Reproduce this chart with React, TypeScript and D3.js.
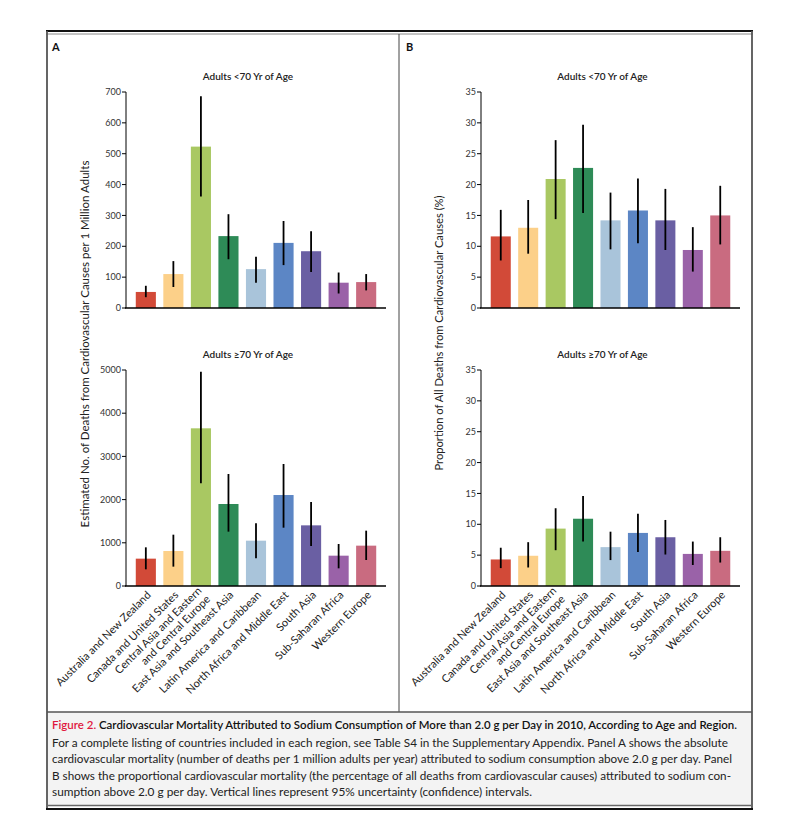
import React from "react";
import * as d3 from "d3";

const regions: string[][] = [
  ["Australia and New Zealand"],
  ["Canada and United States"],
  ["Central Asia and Eastern", "and Central Europe"],
  ["East Asia and Southeast Asia"],
  ["Latin America and Caribbean"],
  ["North Africa and Middle East"],
  ["South Asia"],
  ["Sub-Saharan Africa"],
  ["Western Europe"],
];
const colors = ["#d24a38", "#fcd089", "#a9c862", "#2e8b57", "#a9c4da", "#5c86c5", "#6a5fa3", "#9a62a8", "#c96b80"];

const aUnderVal = [52, 110, 523, 233, 126, 211, 184, 82, 84];
const aUnderLo = [35, 68, 361, 158, 82, 139, 117, 47, 57];
const aUnderHi = [72, 152, 686, 304, 166, 282, 249, 115, 110];

const aOverVal = [633, 810, 3650, 1898, 1049, 2106, 1404, 702, 934];
const aOverLo = [386, 448, 2377, 1258, 640, 1350, 926, 409, 602];
const aOverHi = [895, 1188, 4961, 2593, 1451, 2824, 1944, 972, 1281];

const bUnderVal = [11.6, 13.0, 20.9, 22.7, 14.2, 15.8, 14.2, 9.4, 15.0];
const bUnderLo = [7.7, 8.8, 14.4, 15.4, 9.5, 10.5, 9.4, 5.9, 10.3];
const bUnderHi = [15.9, 17.5, 27.2, 29.7, 18.7, 21.0, 19.3, 13.1, 19.8];

const bOverVal = [4.3, 4.9, 9.3, 10.9, 6.3, 8.6, 7.9, 5.2, 5.7];
const bOverLo = [2.9, 3.0, 5.8, 7.2, 4.2, 5.5, 5.1, 3.4, 3.8];
const bOverHi = [6.2, 7.1, 12.6, 14.6, 8.8, 11.7, 10.7, 7.2, 7.9];

const ticksA1 = [0, 100, 200, 300, 400, 500, 600, 700];
const ticksA2 = [0, 1000, 2000, 3000, 4000, 5000];
const ticksB = [0, 5, 10, 15, 20, 25, 30, 35];

const FONT = "Lato, 'Open Sans', sans-serif";

type PanelProps = {
  x0: number; x1: number; yTop: number; yBottom: number; max: number;
  ticks: number[]; vals: number[]; lo: number[]; hi: number[];
  title: string; showLabels: boolean;
};

function Panel({ x0, x1, yTop, yBottom, max, ticks, vals, lo, hi, title, showLabels }: PanelProps) {
  const x = d3.scaleBand<number>().domain(d3.range(vals.length)).range([x0, x1]).paddingInner(0.27).paddingOuter(0.355);
  const y = d3.scaleLinear().domain([0, max]).range([yBottom, yTop]);
  return (
    <g>
      <text x={(x0 + x1) / 2 - 8} y={yTop - 12} textAnchor="middle" fontFamily={FONT} fontSize={10} fontWeight={600} fill="#222">{title}</text>
      {vals.map((v, i) => (
        <rect key={"b" + i} x={x(i)} y={y(v)} width={x.bandwidth()} height={y(0) - y(v)} fill={colors[i]} />
      ))}
      {vals.map((v, i) => (
        <line key={"e" + i} x1={x(i)! + x.bandwidth() / 2} x2={x(i)! + x.bandwidth() / 2} y1={y(lo[i])} y2={y(hi[i])} stroke="#000" strokeWidth={1.8} />
      ))}
      <line x1={x0} x2={x0} y1={y(0)} y2={y(max)} stroke="#000" strokeWidth={1} />
      <line x1={x0 - 1} x2={x1} y1={y(0)} y2={y(0)} stroke="#000" strokeWidth={1.5} />
      {ticks.map((t) => (
        <g key={"t" + t}>
          <line x1={x0 - 4} x2={x0} y1={y(t)} y2={y(t)} stroke="#000" strokeWidth={1} />
          <text x={x0 - 5} y={y(t)} dy="0.35em" textAnchor="end" fontFamily={FONT} fontSize={9} fill="#333">{t}</text>
        </g>
      ))}
      {showLabels && regions.map((lines, i) => {
        const cx = x(i)! + x.bandwidth() / 2;
        return (
          <g key={"l" + i} transform={`translate(${cx + 3},${y(0) + 7}) rotate(-45)`}>
            {lines.map((ln, j) => (
              <text key={j} x={0} y={(j - (lines.length - 1) / 2) * 12} dy="0.35em" textAnchor="end" fontFamily={FONT} fontSize={11} fill="#222">{ln}</text>
            ))}
          </g>
        );
      })}
    </g>
  );
}

const captionTitleRed = "Figure 2.";
const captionTitle = "Cardiovascular Mortality Attributed to Sodium Consumption of More than 2.0 g per Day in 2010, According to Age and Region.";
const captionLines = [
  "For a complete listing of countries included in each region, see Table S4 in the Supplementary Appendix. Panel A shows the absolute",
  "cardiovascular mortality (number of deaths per 1 million adults per year) attributed to sodium consumption above 2.0 g per day. Panel",
  "B shows the proportional cardiovascular mortality (the percentage of all deaths from cardiovascular causes) attributed to sodium con-",
  "sumption above 2.0 g per day. Vertical lines represent 95% uncertainty (confidence) intervals.",
];
const captionWidths = [676, 680, 679, 480];

export default function App() {
  return (
    <svg width={800} height={826} style={{ position: "absolute", left: 0, top: 0, background: "#fff" }}>
      <rect x={0} y={0} width={800} height={826} fill="#fff" />
      <rect x={47} y={712} width={705} height={93} fill="#f3f3f3" />
      <line x1={46} x2={753} y1={31} y2={31} stroke="#111" strokeWidth={2.2} />
      <line x1={46} x2={753} y1={34} y2={34} stroke="#888" strokeWidth={1} />
      <line x1={47} x2={47} y1={31} y2={809} stroke="#555" strokeWidth={1.8} />
      <line x1={752} x2={752} y1={31} y2={809} stroke="#555" strokeWidth={1.8} />
      <line x1={399} x2={399} y1={34} y2={712} stroke="#444" strokeWidth={1} />
      <line x1={47} x2={752} y1={712} y2={712} stroke="#555" strokeWidth={1.5} />
      <line x1={46} x2={753} y1={805.5} y2={805.5} stroke="#666" strokeWidth={1.3} />
      <line x1={46} x2={753} y1={809} y2={809} stroke="#111" strokeWidth={2} />

      <text x={52} y={51} fontFamily={FONT} fontSize={11} fontWeight={700} fill="#111">A</text>
      <text x={406} y={51} fontFamily={FONT} fontSize={11} fontWeight={700} fill="#111">B</text>

      <Panel x0={126} x1={386} yTop={92} yBottom={308} max={700} ticks={ticksA1} vals={aUnderVal} lo={aUnderLo} hi={aUnderHi} title="Adults <70 Yr of Age" showLabels={false} />
      <Panel x0={126} x1={386} yTop={370} yBottom={586} max={5000} ticks={ticksA2} vals={aOverVal} lo={aOverLo} hi={aOverHi} title="Adults ≥70 Yr of Age" showLabels={true} />
      <Panel x0={481} x1={740} yTop={92} yBottom={308} max={35} ticks={ticksB} vals={bUnderVal} lo={bUnderLo} hi={bUnderHi} title="Adults <70 Yr of Age" showLabels={false} />
      <Panel x0={481} x1={740} yTop={370} yBottom={586} max={35} ticks={ticksB} vals={bOverVal} lo={bOverLo} hi={bOverHi} title="Adults ≥70 Yr of Age" showLabels={true} />

      <text transform="translate(89,344) rotate(-90)" textAnchor="middle" fontFamily={FONT} fontSize={11.5} fill="#222">Estimated No. of Deaths from Cardiovascular Causes per 1 Million Adults</text>
      <text transform="translate(443,333) rotate(-90)" textAnchor="middle" fontFamily={FONT} fontSize={11.2} fill="#222">Proportion of All Deaths from Cardiovascular Causes (%)</text>

      <text x={52} y={729} fontFamily={FONT} fontSize={10.5} textLength={685} lengthAdjust="spacingAndGlyphs">
        <tspan fill="#e0173e" fontWeight={600}>{captionTitleRed} </tspan>
        <tspan fill="#111" fontWeight={600}>{captionTitle}</tspan>
      </text>
      {captionLines.map((ln, i) => (
        <text key={i} x={52} y={747 + i * 16.3} fontFamily={FONT} fontSize={10.5} fill="#222" textLength={captionWidths[i]} lengthAdjust="spacingAndGlyphs">{ln}</text>
      ))}
    </svg>
  );
}
